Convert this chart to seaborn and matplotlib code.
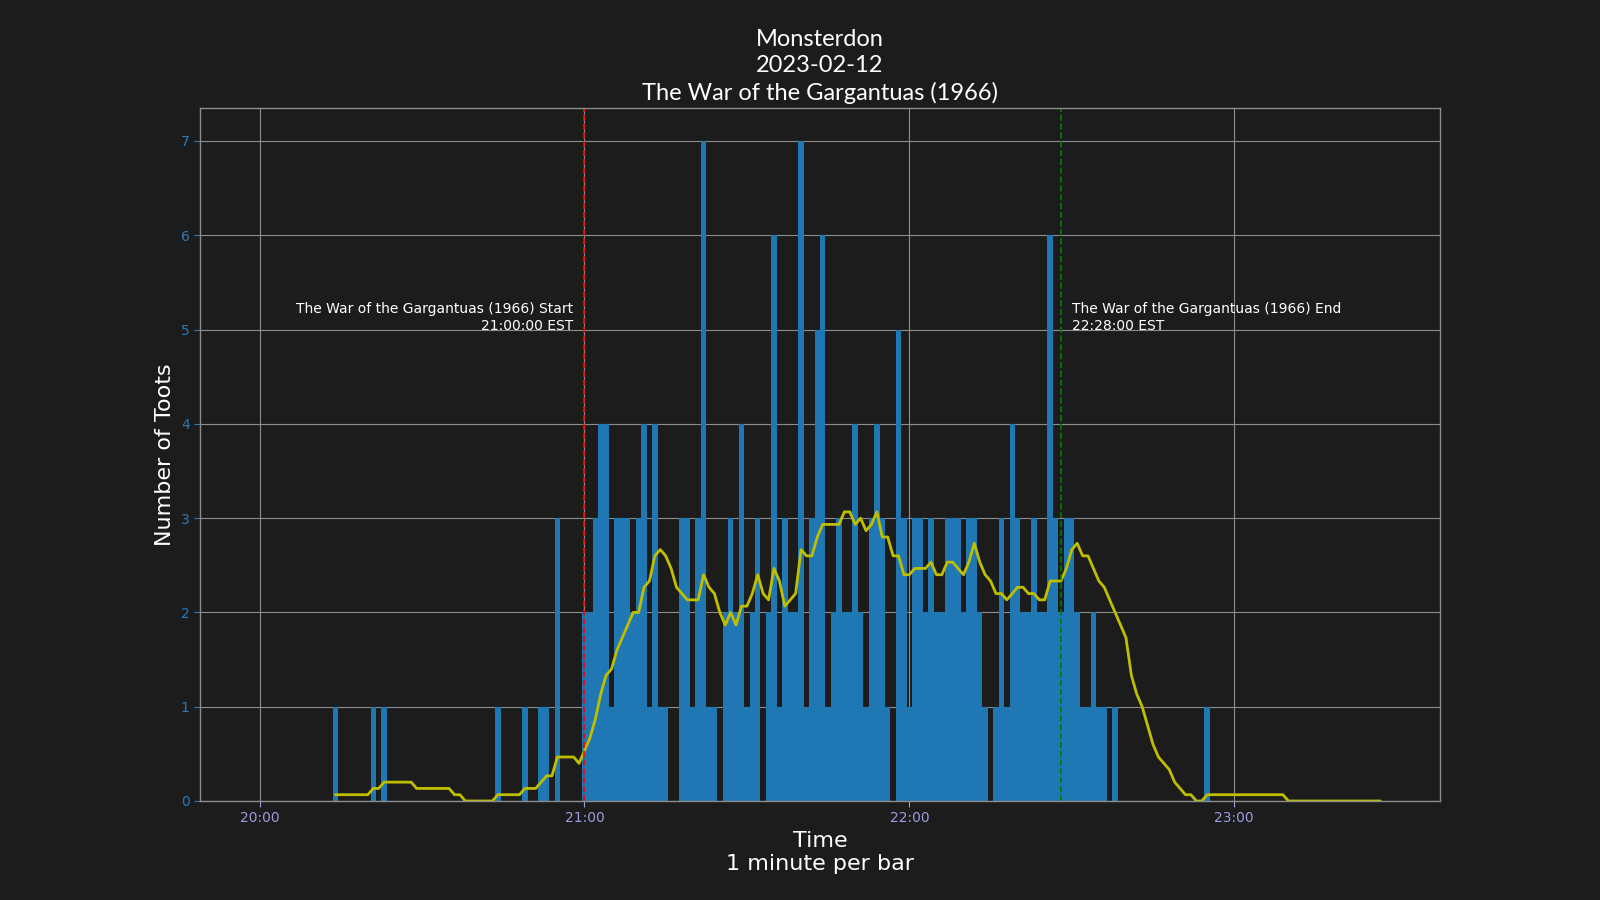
import pandas as pd
import numpy as np
import matplotlib.pyplot as plt
import matplotlib.dates as mdates
import seaborn as sns

# --------------------------- Data ---------------------------
start_time = "2023-02-12 20:00"
movie_title = "The War of the Gargantuas (1966)"
movie_start = "2023-02-12 21:00"
movie_end = "2023-02-12 22:28"

# toots per minute, 20:00 .. 23:27 (10 minutes per row)
toots_per_minute = [
    0, 0, 0, 0, 0, 0, 0, 0, 0, 0,
    0, 0, 0, 0, 1, 0, 0, 0, 0, 0,
    0, 1, 0, 1, 0, 0, 0, 0, 0, 0,
    0, 0, 0, 0, 0, 0, 0, 0, 0, 0,
    0, 0, 0, 0, 1, 0, 0, 0, 0, 1,
    0, 0, 1, 1, 0, 3, 0, 0, 0, 0,
    2, 2, 3, 4, 4, 1, 3, 3, 3, 2,
    3, 4, 1, 4, 1, 1, 0, 0, 3, 3,
    1, 3, 7, 1, 1, 0, 2, 3, 2, 4,
    1, 2, 3, 0, 2, 6, 1, 3, 2, 2,
    7, 1, 3, 5, 6, 1, 2, 3, 2, 2,
    4, 2, 1, 3, 4, 3, 1, 0, 5, 3,
    1, 3, 3, 2, 3, 2, 2, 3, 3, 3,
    2, 3, 3, 2, 1, 0, 1, 3, 1, 4,
    3, 2, 2, 3, 2, 2, 6, 3, 2, 3,
    3, 2, 1, 1, 2, 1, 1, 0, 1, 0,
    0, 0, 0, 0, 0, 0, 0, 0, 0, 0,
    0, 0, 0, 0, 0, 1, 0, 0, 0, 0,
    0, 0, 0, 0, 0, 0, 0, 0, 0, 0,
    0, 0, 0, 0, 0, 0, 0, 0, 0, 0,
    0, 0, 0, 0, 0, 0, 0, 0,
]

times = pd.date_range(start_time, periods=len(toots_per_minute), freq="min")
df = pd.DataFrame({"time": times, "toots": toots_per_minute})
df["rolling"] = df["toots"].rolling(15).mean()

# --------------------------- Style ---------------------------
bg = "#1c1c1c"
grid_col = "#8c8c8c"
sns.set_style("darkgrid", rc={
    "axes.facecolor": bg,
    "figure.facecolor": bg,
    "axes.edgecolor": grid_col,
    "grid.color": grid_col,
    "grid.linewidth": 0.8,
    "xtick.bottom": True,
    "ytick.left": True,
})
plt.rcParams["font.family"] = ["DejaVu Sans"]

fig, ax = plt.subplots(figsize=(16, 9), dpi=100)

ax.bar(df["time"], df["toots"], width=1 / 1440, color="#1f77b4", linewidth=0)
sns.lineplot(x=df["time"], y=df["rolling"], color="y", linewidth=2, ax=ax)

t_start = pd.Timestamp(movie_start)
t_end = pd.Timestamp(movie_end)
ax.axvline(t_start, color="r", linestyle="--", linewidth=1.2)
ax.axvline(t_end, color="g", linestyle="--", linewidth=1.2)

offset = pd.Timedelta(minutes=2)
ax.text(t_start - offset, 5, f"{movie_title} Start\n21:00:00 EST", ha="right",
        va="baseline", color="white", fontsize=10)
ax.text(t_end + offset, 5, f"{movie_title} End\n22:28:00 EST", ha="left",
        va="baseline", color="white", fontsize=10)

# axes limits
ax.set_xlim(pd.Timestamp(start_time) - pd.Timedelta(minutes=11),
            pd.Timestamp(start_time) + pd.Timedelta(minutes=218))
ax.set_ylim(0, 7.35)

ax.xaxis.set_major_locator(mdates.HourLocator())
ax.xaxis.set_major_formatter(mdates.DateFormatter("%H:%M"))
ax.tick_params(axis="x", colors="#9b9be0", labelsize=10, length=4)
ax.tick_params(axis="y", colors="#2a7ab8", labelsize=10, length=4)
ax.grid(True, axis="both")

ax.set_xlabel("Time\n1 minute per bar", color="white", fontsize=16)
ax.set_ylabel("Number of Toots", color="white", fontsize=16)
ax.set_title(f"Monsterdon\n2023-02-12\n{movie_title}", color="white",
             fontsize=17, family=["Lato", "DejaVu Sans"], linespacing=1.3)

for spine in ax.spines.values():
    spine.set_edgecolor(grid_col)
    spine.set_linewidth(1)

plt.savefig("out.png", dpi=100, facecolor=bg)
